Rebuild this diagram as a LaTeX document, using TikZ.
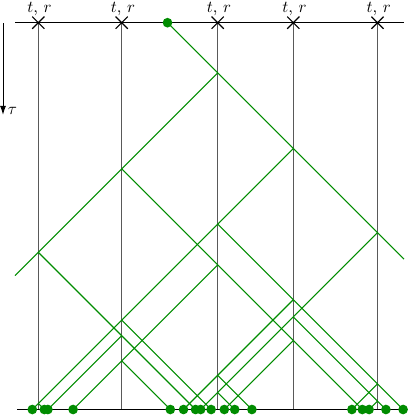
\documentclass[tikz,border=0pt]{standalone}
\usetikzlibrary{arrows.meta,shapes.misc}
\definecolor{raygreen}{RGB}{0,140,0}
\begin{document}
\begin{tikzpicture}[x=0.6pt,y=-0.6pt,
  ray/.style={draw=raygreen, line width=0.65pt},
  dot/.style={circle, fill=raygreen, inner sep=0pt, minimum size=5.8pt},
  vline/.style={draw=black!65, line width=0.75pt},
  baseline/.style={draw=black, line width=0.8pt},
  xmark/.style={cross out, draw=black, line width=0.7pt, minimum size=6.6pt, inner sep=0pt},
  lbl/.style={anchor=base, inner sep=0pt}]
\useasboundingbox (0,0) rectangle (408,415);
% frame lines
\coordinate (tl) at (15,22.7);
\coordinate (tr) at (404,22.7);
\coordinate (bl) at (17,409.5);
\coordinate (br) at (405,409.5);
% vertical lines
\foreach \i/\x in {1/38.3,2/121.7,3/217.7,4/293.3,5/377.5}{
  \coordinate (t\i) at (\x,22.7);
  \coordinate (b\i) at (\x,409.5);
  \draw[vline] (t\i) -- (b\i);
}
\draw[baseline] (tl) -- (tr);
\draw[baseline] (bl) -- (br);
\foreach \i in {1,...,5}{
  \node[xmark] (c\i) at (t\i) {};
  \path (t\i) ++(1.2,-10) node[lbl] (l\i) {$t$, $r$};
}
% tau arrow
\coordinate (a0) at (3,23.3);
\coordinate (a1) at (3,115);
\draw[line width=0.6pt,-{Latex[length=5.5pt,width=3.6pt]}] (a0) -- (a1);
\node[lbl] (tau) at (12.5,114.5) {$\tau$};
% vertices
\coordinate (n1) at (217.7,72.9);
\coordinate (n2) at (293.3,148.5);
\coordinate (n3) at (121.7,168.9);
\coordinate (n4) at (377.5,232.7);
\coordinate (n5) at (217.7,224.1);
\coordinate (n6) at (38.3,252.3);
\coordinate (n7) at (217.7,264.9);
\coordinate (n8) at (293.3,316.9);
\coordinate (n9) at (121.7,320.1);
\coordinate (n10) at (293.3,299.7);
\coordinate (n11) at (121.7,335.7);
\coordinate (n12) at (293.3,340.5);
\coordinate (n13) at (121.7,360.9);
\coordinate (n14) at (217.7,392.5);
\coordinate (n15) at (377.5,401.1);
\coordinate (n16) at (38.3,403.5);
\coordinate (n17) at (377.5,383.9);
\coordinate (n18) at (217.7,375.3);
\coordinate (e1) at (404,259.2);
\coordinate (e2) at (15,275.6);
% dots
\node[dot] (s) at (167.5,22.7) {};
\foreach \i/\x in {1/211.1,2/195.5,3/47.9,4/362.3,5/224.3,6/73.1,7/170.3,8/200.7,9/234.7,10/385.9,11/369.1,12/32.3,13/44.3,14/403.1,15/351.9,16/183.5,17/251.9}{
  \node[dot] (d\i) at (\x,409.5) {};
}
% rays
\draw[ray] (s.center) -- (n1);
\draw[ray] (n1) -- (n2);
\draw[ray] (n1) -- (n3);
\draw[ray] (n2) -- (n4);
\draw[ray] (n2) -- (n5);
\draw[ray] (n3) -- (n6);
\draw[ray] (n3) -- (n7);
\draw[ray] (n4) -- (e1);
\draw[ray] (n4) -- (n8);
\draw[ray] (n5) -- (n9);
\draw[ray] (n5) -- (n10);
\draw[ray] (n6) -- (e2);
\draw[ray] (n6) -- (n11);
\draw[ray] (n7) -- (n12);
\draw[ray] (n7) -- (n13);
\draw[ray] (n8) -- (n14);
\draw[ray] (n8) -- (n15);
\draw[ray] (n9) -- (n16);
\draw[ray] (n9) -- (d1.center);
\draw[ray] (n10) -- (n17);
\draw[ray] (n10) -- (n18);
\draw[ray] (n11) -- (d2.center);
\draw[ray] (n11) -- (d3.center);
\draw[ray] (n12) -- (d4.center);
\draw[ray] (n12) -- (d5.center);
\draw[ray] (n13) -- (d6.center);
\draw[ray] (n13) -- (d7.center);
\draw[ray] (n14) -- (d8.center);
\draw[ray] (n14) -- (d9.center);
\draw[ray] (n15) -- (d10.center);
\draw[ray] (n15) -- (d11.center);
\draw[ray] (n16) -- (d12.center);
\draw[ray] (n16) -- (d13.center);
\draw[ray] (n17) -- (d14.center);
\draw[ray] (n17) -- (d15.center);
\draw[ray] (n18) -- (d16.center);
\draw[ray] (n18) -- (d17.center);
\end{tikzpicture}
\end{document}
